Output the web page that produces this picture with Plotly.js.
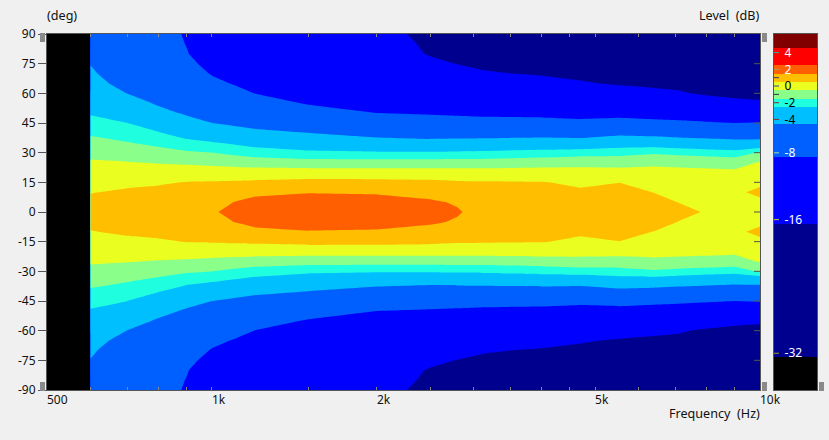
<!DOCTYPE html>
<html><head><meta charset="utf-8">
<script src="https://cdn.plot.ly/plotly-3.0.1.min.js"></script>
<style>html,body{margin:0;padding:0;background:#f0f0f0}#c{width:829px;height:440px}</style>
</head><body><div id="c"></div>
<script>
// dB values, per frequency column, for angles 0..90
var angleRows = [0,5,10,15,20,25,30,35,40,45,50,55,60,65,70,75,80,85,90];
var f600  = [1.00,0.73,0.46,0.18,-0.10,-0.39,-0.76,-1.19,-1.64,-2.13,-2.60,-3.00,-3.39,-3.78,-4.18,-4.56,-5.00,-5.50,-6.20];
var f700  = [1.20,0.92,0.64,0.30,-0.08,-0.46,-0.95,-1.45,-1.97,-2.49,-3.13,-3.80,-4.52,-5.20,-5.85,-6.40,-6.90,-7.50,-8.10];
var f800  = [1.30,1.01,0.72,0.40,-0.08,-0.56,-1.15,-1.76,-2.42,-3.21,-4.02,-4.70,-5.30,-5.80,-6.30,-6.75,-7.20,-7.60,-8.02];
var f900  = [1.40,1.11,0.82,0.53,-0.03,-0.64,-1.36,-2.17,-3.05,-3.95,-4.70,-5.40,-6.05,-6.70,-7.40,-8.00,-8.40,-8.57,-8.62];
var f1000 = [1.45,1.14,0.87,0.56,-0.05,-0.74,-1.49,-2.41,-3.45,-4.49,-5.37,-6.25,-7.11,-7.95,-8.65,-9.14,-9.65,-10.10,-10.50];
var f1100 = [1.62,1.52,1.02,0.60,-0.05,-0.85,-1.72,-2.68,-3.76,-4.83,-5.83,-6.83,-7.80,-8.65,-9.30,-9.80,-10.40,-10.90,-11.40];
var f1200 = [1.80,1.60,1.42,0.65,-0.05,-0.96,-1.95,-2.94,-4.06,-5.17,-6.30,-7.40,-8.55,-9.26,-9.90,-10.50,-11.10,-11.70,-12.30];
var f1500 = [2.00,1.74,1.47,0.77,-0.06,-1.07,-2.25,-3.39,-4.49,-5.93,-7.36,-8.70,-9.58,-10.50,-11.40,-12.30,-13.20,-14.10,-15.00];
var f2000 = [1.95,1.71,1.44,0.75,-0.06,-1.07,-2.36,-3.70,-5.17,-6.83,-8.49,-9.40,-10.30,-11.20,-12.10,-12.95,-13.80,-14.70,-15.60];
var f2500 = [1.75,1.57,1.33,0.69,-0.06,-1.07,-2.36,-3.88,-5.50,-7.17,-8.77,-10.10,-11.43,-12.80,-14.10,-15.50,-16.84,-17.10,-17.20];
var f2800 = [1.55,1.45,0.98,0.60,-0.08,-1.05,-2.31,-3.80,-5.46,-7.25,-8.96,-10.50,-12.00,-13.50,-15.10,-16.60,-17.60,-18.50,-19.50];
var f3150 = [1.30,1.06,0.81,0.57,-0.10,-1.07,-2.25,-3.71,-5.42,-7.35,-9.20,-10.95,-12.70,-14.40,-16.15,-17.30,-18.50,-19.50,-20.50];
var f4000 = [1.20,0.98,0.76,0.54,-0.09,-0.91,-2.07,-3.58,-5.32,-7.39,-9.36,-11.20,-13.10,-15.00,-16.90,-18.00,-19.00,-20.00,-21.00];
var f4700 = [1.00,0.81,0.63,0.34,-0.16,-0.81,-1.93,-3.57,-5.52,-7.65,-9.76,-11.90,-13.97,-16.10,-17.40,-18.50,-19.50,-20.50,-21.50];
var f5550 = [1.05,0.87,0.68,0.49,-0.14,-0.88,-1.83,-3.17,-4.96,-7.26,-9.63,-12.10,-14.54,-16.95,-18.00,-19.00,-20.00,-21.00,-22.00];
var f6400 = [0.85,0.67,0.49,0.13,-0.22,-0.68,-1.64,-3.21,-5.17,-7.55,-10.10,-12.75,-15.43,-17.40,-18.00,-19.30,-20.50,-21.50,-22.50];
var f7100 = [0.62,0.49,0.23,-0.03,-0.29,-0.70,-1.79,-3.41,-5.43,-7.76,-10.42,-13.20,-16.05,-17.50,-18.50,-19.80,-21.00,-22.00,-23.00];
var f7850 = [0.49,0.28,0.08,-0.12,-0.33,-0.72,-1.93,-3.57,-5.64,-8.02,-10.96,-13.90,-17.00,-18.00,-19.00,-20.30,-21.50,-22.50,-23.50];
var f9000 = [0.20,0.10,0.10,-0.05,-0.34,-0.85,-2.07,-3.77,-6.00,-8.49,-11.70,-15.30,-17.70,-18.60,-19.50,-20.80,-22.00,-23.00,-24.00];
var f10000= [0.10,0.07,1.00,0.07,-0.19,-0.44,-1.39,-3.70,-5.90,-8.22,-12.00,-15.90,-17.80,-18.90,-20.00,-21.30,-22.50,-23.50,-24.50];
var freqs = [600,700,800,900,1000,1100,1200,1500,2000,2500,2800,3150,4000,4700,5550,6400,7100,7850,9000,10000];
var columns = [f600,f700,f800,f900,f1000,f1100,f1200,f1500,f2000,f2500,f2800,f3150,f4000,f4700,f5550,f6400,f7100,f7850,f9000,f10000];

var levels = [-32.5,-16.5,-8.5,-4.5,-2.5,-1.5,-0.5,0.5,1.5,2.5,4.5];
var bandColors = ['#000000','#00008f','#0000ff','#005fff','#00bfff','#1fffdf','#8aff8a','#eaff1f','#ffbf00','#ff5f00','#ff0000','#800000'];
var barValues = [-33,-24,-12,-6,-3,-2,-1,0,1,2,3.5,5];

var xTickVals = [500,600,700,800,900,1000,1500,2000,2500,3000,3500,4000,4500,5000,6000,7000,8000,9000,10000];
var xTickText = ['500','','','','','1k','','2k','','','','','','5k','','','','','10k'];
var yTicks = [90,75,60,45,30,15,0,-15,-30,-45,-60,-75,-90];
var barTicks = [4,2,1,0,-1,-2,-4,-8,-16,-32];
var barTickText = ['4','2','','0','','-2','-4','-8','-16','-32'];
var barLabelColors = ['#fff','#fff','#000','#000','#000','#000','#000','#fff','#fff','#fff'];
var barTickColors = ['#30b0a0','#b09a60','#333366','#3040a0','#333333','#803030','#803030','#b0e0a0','#c8c840','#a0a020'];

var angles = angleRows.slice(1).reverse().map(function(a){return -a;}).concat(angleRows);
var zCols = columns.map(function(c){ return c.slice(1).reverse().concat(c); });

var sMin=-33, sMax=5, scale=[[0,bandColors[0]]];
levels.forEach(function(L,i){
  var s=(L-sMin)/(sMax-sMin);
  scale.push([s,bandColors[i]]); scale.push([s,bandColors[i+1]]);
});
scale.push([1,bandColors[bandColors.length-1]]);

var barTop=6.23, barBottom=-36.4;
var barEdges=[barBottom].concat(levels).concat([barTop]);

var contour = {type:'contour', x:freqs, y:angles, z:zCols, transpose:true,
  autocontour:false, contours:{start:-32.5,end:4.5,size:1,coloring:'fill',showlines:false},
  line:{width:0,smoothing:0}, colorscale:scale, showscale:false, hoverinfo:'skip', connectgaps:false};
var bar = {type:'heatmap', xaxis:'x2', yaxis:'y2', x:[0,1], y:barEdges,
  z:barValues.map(function(v){return [v];}), zmin:sMin, zmax:sMax, zsmooth:false,
  colorscale:scale, showscale:false, hoverinfo:'skip'};

var W=770, H=356;
function px(x){return (x-47)/W;} function py(y){return (390-y)/H;}
var shapes=[];
[[40,33],[40,382],[762,33],[762,382],[819,382]].forEach(function(p){
  shapes.push({type:'rect',xref:'paper',yref:'paper',x0:px(p[0]),x1:px(p[0]+5),y0:py(p[1]),y1:py(p[1]+9),
    fillcolor:'#8a8a8a',line:{width:0},layer:'above'});
});
yTicks.slice(1,-1).forEach(function(v){
  shapes.push({type:'line',xref:'x domain',yref:'y',x0:1-6/713,x1:1,y0:v,y1:v,line:{color:'#555',width:1}});
});
barTicks.forEach(function(v,i){
  shapes.push({type:'line',xref:'x2 domain',yref:'y2',x0:0,x1:5/43,y0:v,y1:v,line:{color:barTickColors[i],width:1}});
});

var font={family:'"Noto Sans",Tahoma,sans-serif',size:12,color:'#111'};
var annFont={family:font.family,size:12.6,color:'#111'};
var layout={width:829,height:440,margin:{l:47,r:12,t:34,b:50,pad:0},
  paper_bgcolor:'#f0f0f0',plot_bgcolor:'#000000',font:font,showlegend:false,
  xaxis:{type:'log',domain:[0,713/770],range:[Math.log10(500),4],tickmode:'array',tickvals:xTickVals,ticktext:xTickText,
    ticks:'inside',ticklen:3,tickcolor:'#888',tickwidth:1,mirror:'allticks',showline:true,linecolor:'#555',linewidth:1,
    showgrid:false,zeroline:false,ticklabelposition:'outside right',ticklabelstandoff:-1,ticklabelshift:-1,tickangle:0,automargin:false},
  yaxis:{domain:[0,1],range:[-90,90],tickmode:'array',tickvals:yTicks,ticktext:yTicks.map(String),
    ticks:'outside',ticklen:8,tickcolor:'#555',tickwidth:1,showline:true,mirror:true,linecolor:'#555',linewidth:1,
    showgrid:false,zeroline:false,automargin:false},
  xaxis2:{domain:[727/770,1],range:[0,1],anchor:'y2',showticklabels:false,ticks:'',showgrid:false,zeroline:false,
    showline:true,mirror:true,linecolor:'#555',linewidth:1},
  yaxis2:{domain:[0,1],anchor:'x2',range:[barBottom,barTop],tickmode:'array',tickvals:barTicks,
    ticktext:barTickText.map(function(t,i){return t?'<span style="color:'+barLabelColors[i]+'">'+t+'</span>':'';}),
    ticks:'',ticklabelposition:'inside',ticklabelstandoff:10,showgrid:false,zeroline:false,showline:true,mirror:true,linecolor:'#555',linewidth:1},
  annotations:[
    {text:'(deg)',font:annFont,xref:'paper',yref:'paper',x:px(45),y:py(16),xanchor:'left',yanchor:'middle',showarrow:false},
    {text:'Level  (dB)',font:annFont,xref:'paper',yref:'paper',x:px(761),y:py(16),xanchor:'right',yanchor:'middle',showarrow:false},
    {text:'Frequency  (Hz)',font:annFont,xref:'paper',yref:'paper',x:px(762),y:py(413),xanchor:'right',yanchor:'middle',showarrow:false}
  ],
  shapes:shapes};
Plotly.newPlot('c',[contour,bar],layout,{displayModeBar:false,staticPlot:true});
</script></body></html>
